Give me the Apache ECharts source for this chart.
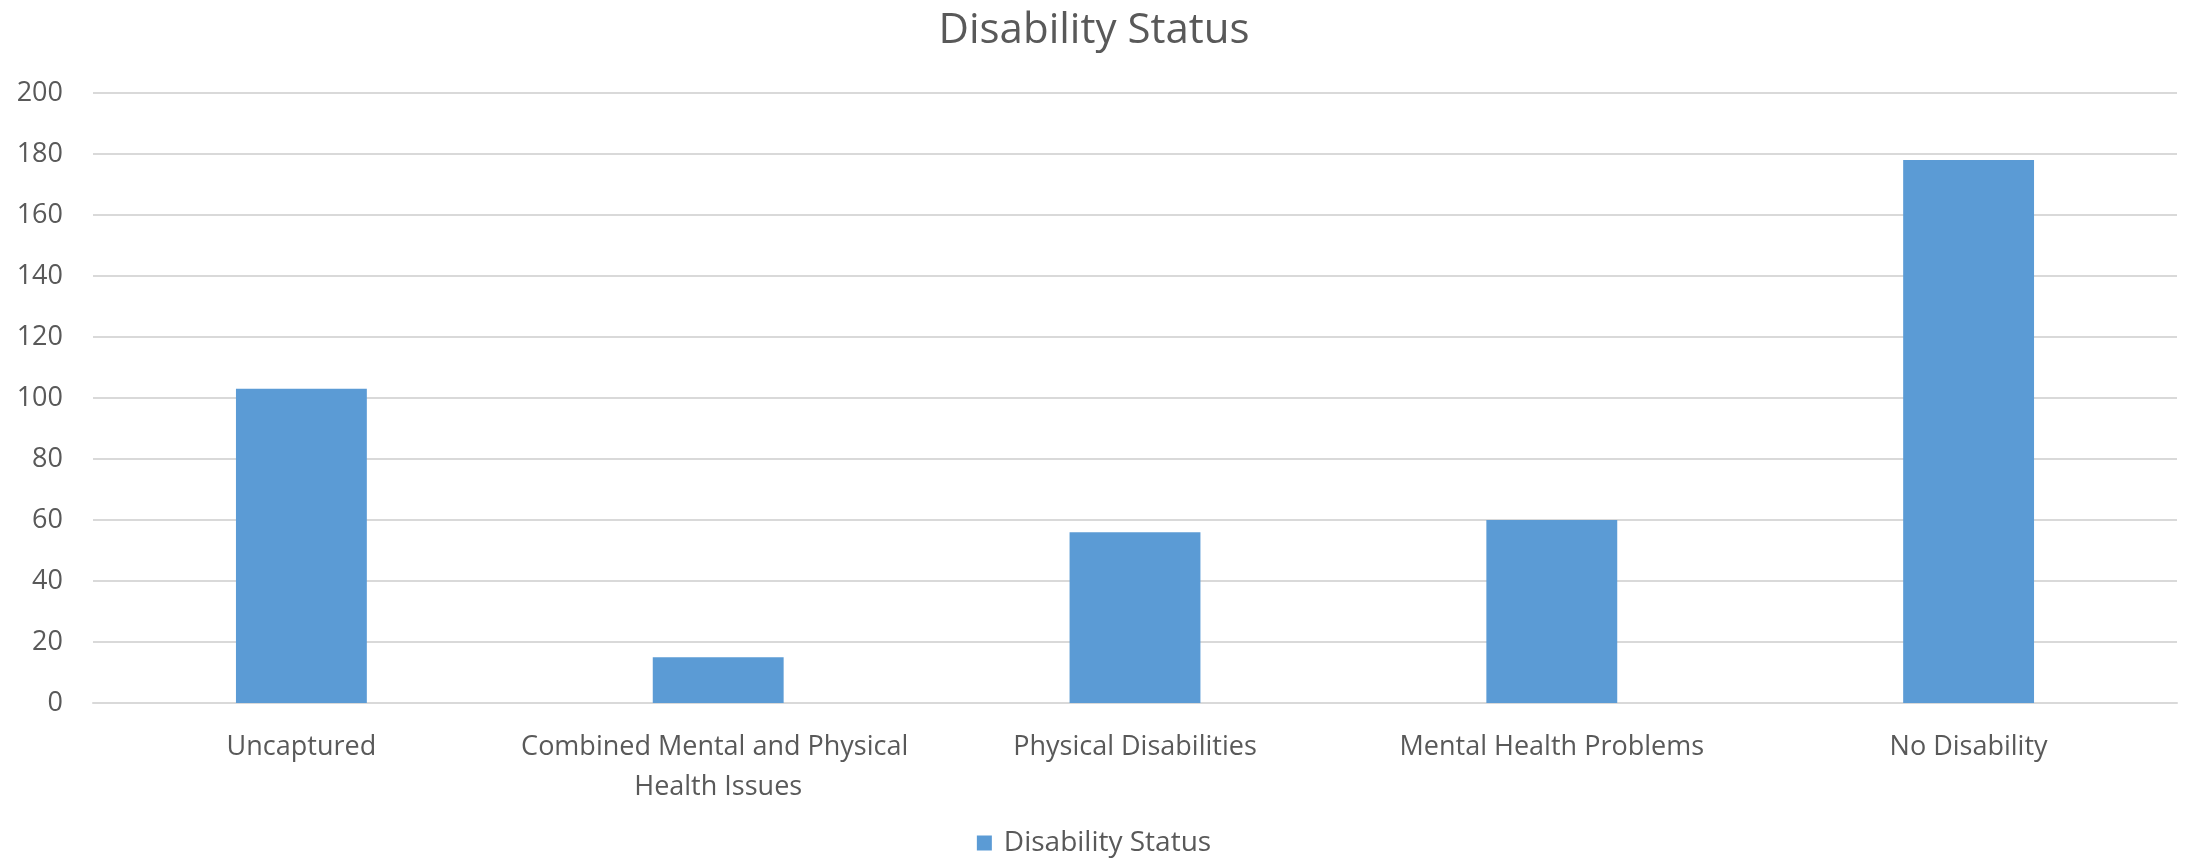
<!DOCTYPE html>
<html>
<head>
<meta charset="utf-8">
<script src="https://cdn.jsdelivr.net/npm/echarts@6/dist/echarts.min.js"></script>
<style>html,body{margin:0;padding:0;background:#fff}#c{width:2188px;height:862px}</style>
</head>
<body>
<div id="c"></div>
<script>
const categories = ["Uncaptured", "Combined Mental and Physical Health Issues", "Physical Disabilities", "Mental Health Problems", "No Disability"];
const values = [103, 15, 56, 60, 178];
const seriesName = "Disability Status";
const titleText = "Disability Status";

const chart = echarts.init(document.getElementById('c'));
const font = "'Open Sans', sans-serif";
chart.setOption({
  animation: false,
  title: { text: titleText, left: 'center', top: 5, textStyle: { fontFamily: font, fontSize: 42, fontWeight: 'normal', color: '#595959' } },
  legend: { data: [seriesName], bottom: 0, left: 'center', itemWidth: 15, itemHeight: 15, icon: 'rect', itemGap: 10,
    textStyle: { fontFamily: font, fontSize: 28, color: '#595959', padding: [0, 0, 0, 7] } },
  grid: { left: 93, right: 11, top: 93, bottom: 159, containLabel: false },
  xAxis: { type: 'category', data: categories,
    axisLine: { show: true, lineStyle: { color: '#D9D9D9', width: 2 } },
    axisTick: { show: false },
    axisLabel: { fontFamily: font, fontSize: 27, color: '#595959', margin: 24, lineHeight: 40, width: 410, overflow: 'break', interval: 0 } },
  yAxis: { type: 'value', min: 0, max: 200, interval: 20,
    axisLine: { show: false }, axisTick: { show: false },
    splitLine: { lineStyle: { color: '#D9D9D9', width: 2 } },
    axisLabel: { fontFamily: font, fontSize: 27, color: '#595959', margin: 30 } },
  series: [{ name: seriesName, type: 'bar', data: values, barWidth: '31.4%', itemStyle: { color: '#5B9BD5' } }]
});
</script>
</body>
</html>
